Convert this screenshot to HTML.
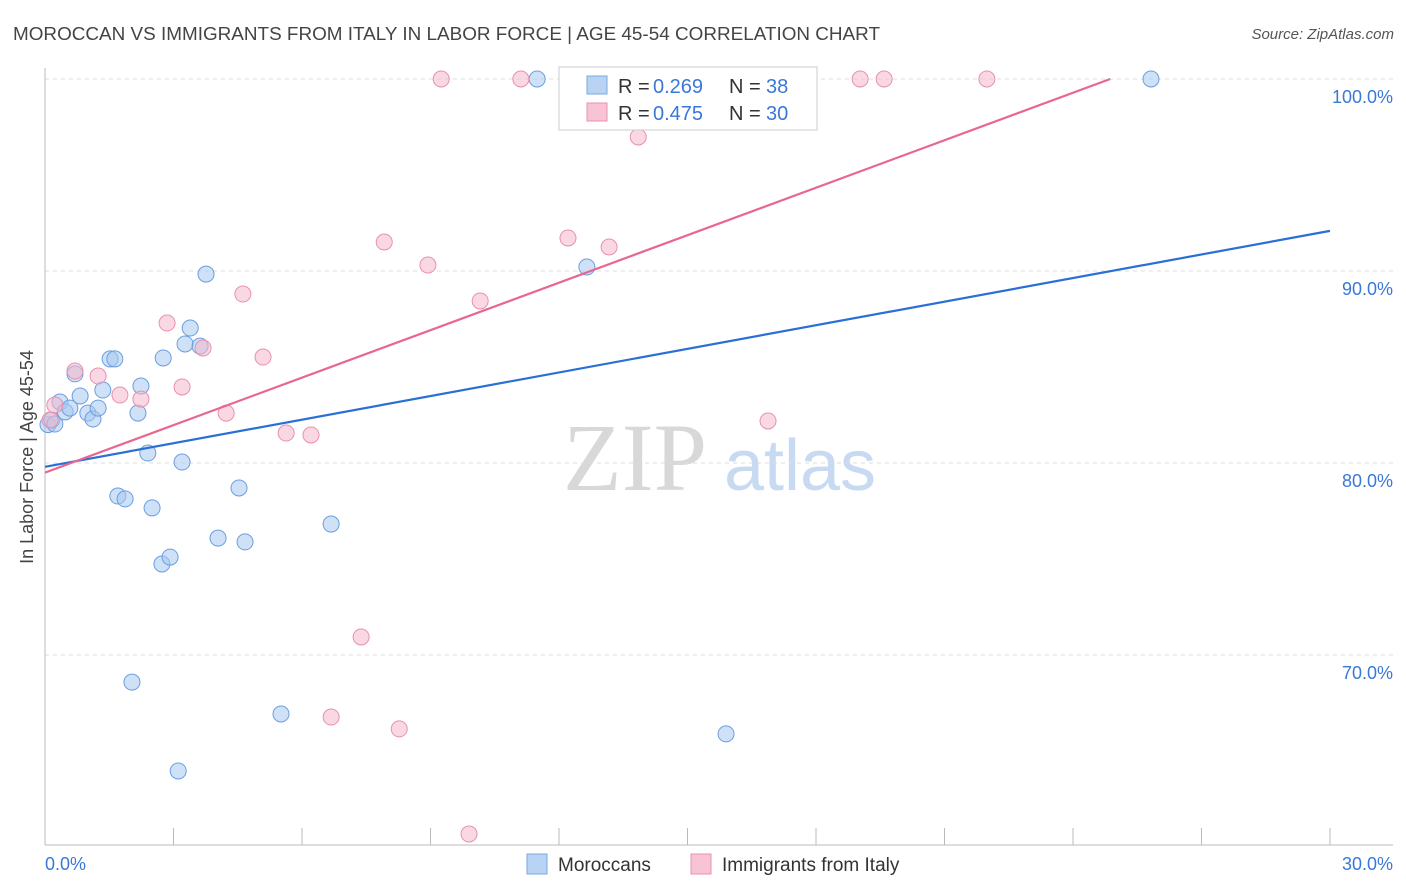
<!DOCTYPE html>
<html><head><meta charset="utf-8"><style>
body{margin:0;background:#fff;font-family:"Liberation Sans",sans-serif}
</style></head><body>
<svg id="chart" width="1406" height="892" xmlns="http://www.w3.org/2000/svg" style="display:block">
<text x="13" y="40" font-size="18" fill="#444" textLength="867" lengthAdjust="spacingAndGlyphs">MOROCCAN VS IMMIGRANTS FROM ITALY IN LABOR FORCE | AGE 45-54 CORRELATION CHART</text>
<text x="1394" y="39" font-size="15" fill="#555" text-anchor="end" font-style="italic">Source: ZipAtlas.com</text>
<text transform="translate(33,457) rotate(-90)" font-size="18" fill="#444" text-anchor="middle">In Labor Force | Age 45-54</text>
<g>
<text x="635" y="490" font-size="96" fill="#d8d8d8" font-family="Liberation Serif,serif" text-anchor="middle">ZIP</text>
<text x="800" y="490" font-size="72" fill="#c8daf2" text-anchor="middle">atlas</text>
</g>
<g id="grid"></g><g id="marks"></g>
<g>
<rect x="559" y="67" width="258" height="63" fill="#fff" stroke="#ccc"/>
<rect x="587" y="76" width="20" height="18" fill="#b8d3f4" stroke="#7aa8e0"/>
<rect x="587" y="103" width="20" height="18" fill="#f8c4d4" stroke="#e890b0"/>
<text x="618" y="93" font-size="20" fill="#333">R =</text>
<text x="653" y="93" font-size="20" fill="#3a78d8">0.269</text>
<text x="729" y="93" font-size="20" fill="#333">N =</text>
<text x="766" y="93" font-size="20" fill="#3a78d8">38</text>
<text x="618" y="120" font-size="20" fill="#333">R =</text>
<text x="653" y="120" font-size="20" fill="#3a78d8">0.475</text>
<text x="729" y="120" font-size="20" fill="#333">N =</text>
<text x="766" y="120" font-size="20" fill="#3a78d8">30</text>
</g>
<g>
<rect x="527" y="854" width="20" height="20" fill="#b8d3f4" stroke="#7aa8e0"/>
<text x="558" y="871" font-size="19" fill="#333">Moroccans</text>
<rect x="691" y="854" width="20" height="20" fill="#f8c4d4" stroke="#e890b0"/>
<text x="722" y="871" font-size="19" fill="#333">Immigrants from Italy</text>
</g>
</svg>
<script>
const blueX=[0.07,0.16,0.23,0.35,0.47,0.58,0.70,0.82,1.0,1.12,1.24,1.35,1.52,1.63,1.70,1.87,2.17,2.24,2.40,2.50,2.73,2.76,2.92,3.11,3.20,3.27,3.39,3.62,3.76,4.04,4.53,4.67,5.51,6.68,2.03,11.49,12.65,15.9,25.82];
const blueY=[82.0,82.24,82.03,83.18,82.66,82.86,84.64,83.49,82.6,82.29,82.86,83.8,85.42,85.42,78.28,78.13,82.6,84.01,80.52,77.66,74.74,85.47,75.1,63.96,80.05,86.2,87.03,86.09,89.84,76.09,78.7,75.89,66.93,76.82,68.59,100,90.21,65.89,100];
const pinkX=[0.12,0.23,0.70,1.24,1.75,2.24,2.85,3.20,3.69,4.23,4.62,5.09,5.63,6.21,6.68,7.38,7.92,8.27,8.94,9.25,9.90,10.16,11.11,12.21,13.17,13.85,16.34,16.88,19.03,19.59,21.99];
const pinkY=[82.24,83.02,84.79,84.53,83.54,83.33,87.29,83.96,85.99,82.6,88.8,85.52,81.56,81.46,66.77,70.94,91.51,66.15,90.31,100,60.68,88.44,100,91.72,91.25,96.98,100,82.19,100,100,100];
const blueLine=[79.8,92.09];
const pinkLine=[79.5,104.23];
const yTicks=[100,90,80,70];
const yTickLabels=["100.0%","90.0%","80.0%","70.0%"];
const xTicks=[0,3,6,9,12,15,18,21,24,27,30];
const xLabels=["0.0%","30.0%"];
const NS="http://www.w3.org/2000/svg";
const sx=v=>45+v*1285/30, sy=v=>79+(100-v)*19.2;
function mk(t,a,p){const e=document.createElementNS(NS,t);for(const k in a)e.setAttribute(k,a[k]);p.appendChild(e);return e;}
const g=document.getElementById('grid'),m=document.getElementById('marks');
yTicks.forEach((t,i)=>{
 const l=mk('line',{x1:45,x2:1393,y1:sy(t),y2:sy(t),stroke:'#ddd','stroke-dasharray':'4,4'},g);
 
 
 const tx=mk('text',{x:1393,y:sy(t)+24,'font-size':18,fill:'#3a78d8','text-anchor':'end'},g);
 tx.textContent=yTickLabels[i];
 
 
});
const ax=mk('line',{x1:45,x2:45,y1:68,y2:845,stroke:'#bbb'},g);


const bx=mk('line',{x1:45,x2:1393,y1:845,y2:845,stroke:'#bbb'},g);


xTicks.slice(1).forEach(t=>{
 const l=mk('line',{x1:sx(t),x2:sx(t),y1:828,y2:845,stroke:'#bbb'},g);
 
 
});
[[0,'start',45],[30,'end',1393]].forEach((d,i)=>{
 const tx=mk('text',{x:d[2],y:870,'font-size':18,fill:'#3a78d8','text-anchor':d[1]},g);
 tx.textContent=xLabels[i];
 
 
});
function pts(X,Y,fill,stroke,name){X.forEach((x,i)=>{
 const c=mk('circle',{cx:sx(x),cy:sy(Y[i]),r:8,fill:fill,'fill-opacity':0.55,stroke:stroke,'stroke-width':1},m);
 
 
});}
pts(blueX,blueY,'#a8c8f0','#6b9ee0','moroccans-point');
pts(pinkX,pinkY,'#f4b8cc','#e890b0','italy-point');
const bl=mk('line',{x1:sx(0),y1:sy(blueLine[0]),x2:sx(30),y2:sy(blueLine[1]),stroke:'#2a6fd6','stroke-width':2.2},m);


const xe=Math.min(30,(100-pinkLine[0])/((pinkLine[1]-pinkLine[0])/30));
const pl=mk('line',{x1:sx(0),y1:sy(pinkLine[0]),x2:sx(xe),y2:sy(pinkLine[0]+(pinkLine[1]-pinkLine[0])*xe/30),stroke:'#e86690','stroke-width':2.2},m);


</script>
</body></html>
